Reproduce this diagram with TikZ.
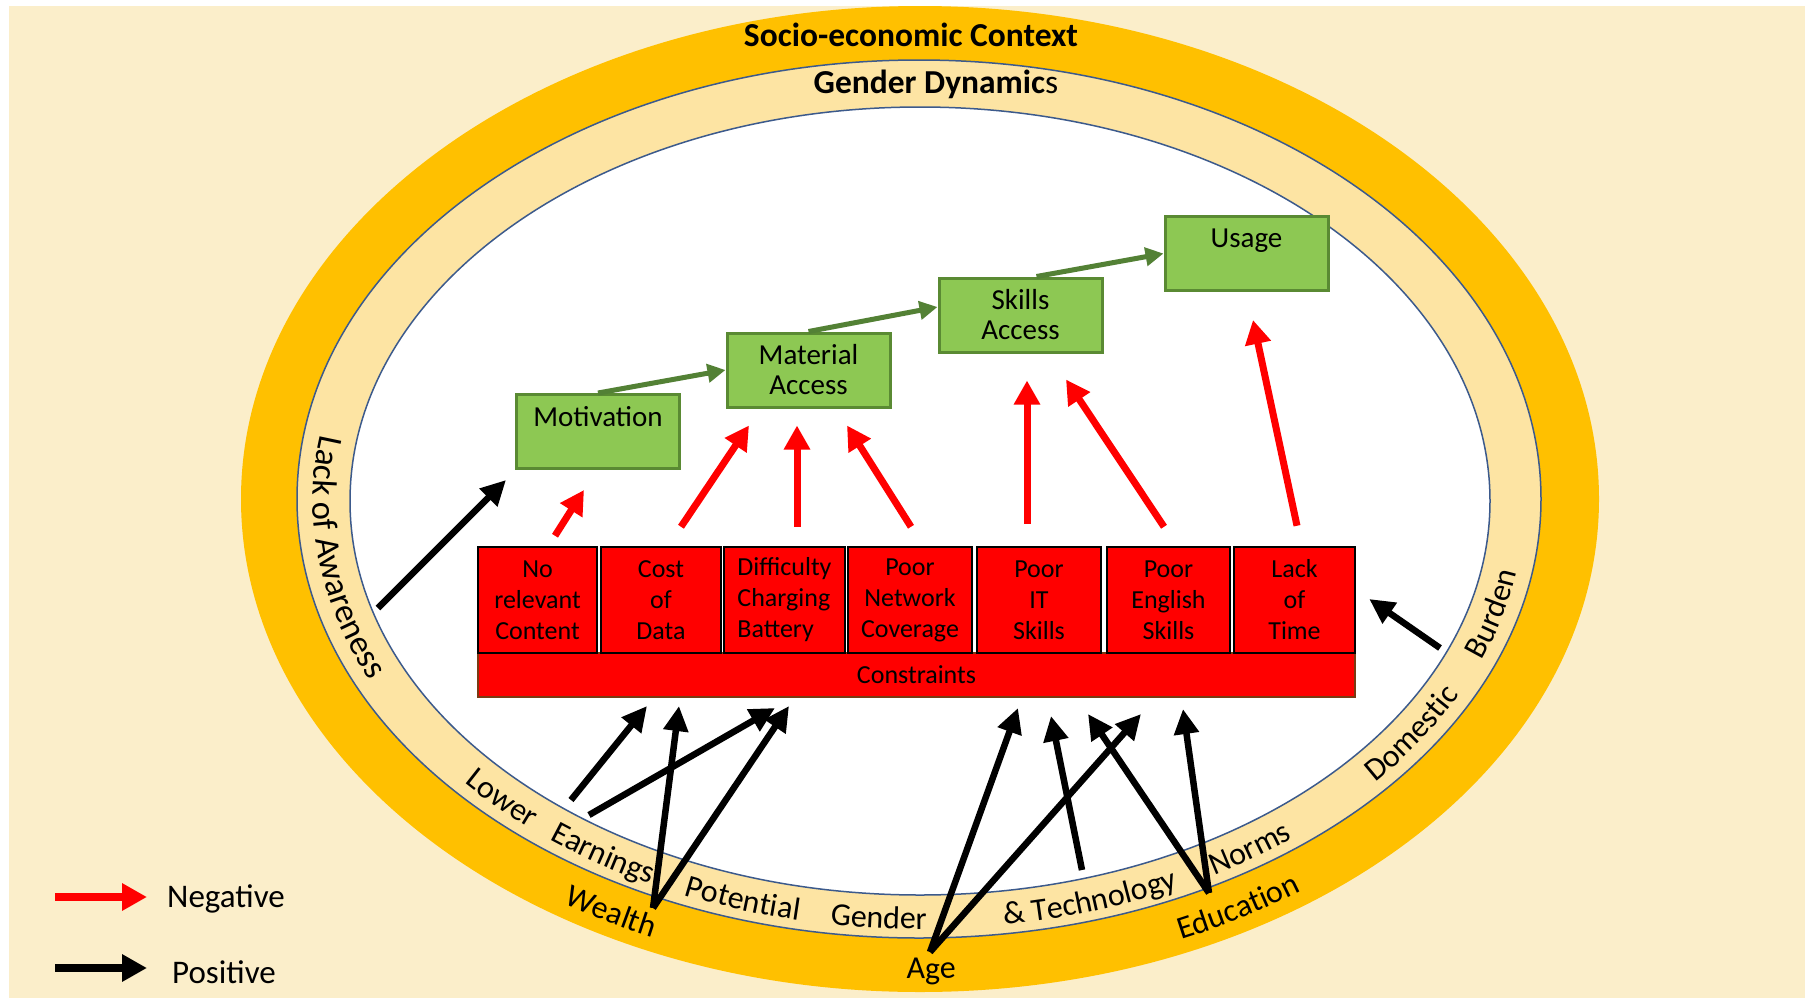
\documentclass[tikz,border=0pt]{standalone}
\usepackage{fontspec}
\setmainfont{Carlito}
\usetikzlibrary{arrows.meta,calc,decorations.text}

\definecolor{cream}{HTML}{FBEECA}
\definecolor{ctxorange}{HTML}{FFC000}
\definecolor{bandyellow}{HTML}{FDE4A3}
\definecolor{ringblue}{HTML}{3C5A8C}
\definecolor{stepgreen}{HTML}{8DC853}
\definecolor{stepedge}{HTML}{5A8A33}
\definecolor{flowgreen}{HTML}{538135}
\definecolor{barred}{HTML}{FF0000}
\definecolor{baredge}{HTML}{7B3A12}

% text set along an elliptical arc around (920,500):
% [font size], rx, ry, from angle, to angle, text
\newcommand\ringtext[6][32]{%
  \path[decorate, decoration={text along path, text align=center,
        text={|\fontsize{#1}{38}\selectfont|#6}}]
    plot[domain=#4:#5, samples=50] ({920+#2*cos(\x)},{500+#3*sin(\x)});
}

\begin{document}
\begin{tikzpicture}[x=1pt,y=-1pt,
  stepbox/.style={draw=stepedge, line width=3pt, fill=stepgreen,
    minimum width=163pt, minimum height=74pt, inner sep=0pt, align=center,
    font=\fontsize{29}{30}\selectfont},
  cbox/.style={draw=black, line width=2.5pt, fill=barred, minimum height=106pt,
    inner sep=0pt, align=center, font=\fontsize{26}{31}\selectfont},
  flow/.style={draw=flowgreen, line width=5pt, -{Triangle[length=18pt,width=18pt]}},
  negarrow/.style={draw=red, line width=7pt, -{Triangle[length=24pt,width=25pt]}},
  posarrow/.style={draw=black, line width=6.5pt, -{Triangle[length=25pt,width=24pt]}},
  legarrow/.style={line width=8pt, -{Triangle[length=25pt,width=26pt]}},
  title/.style={font=\fontsize{33.5}{38}\selectfont\bfseries},
  legtext/.style={font=\fontsize{33}{38}\selectfont, inner sep=0pt, anchor=west}
]
\useasboundingbox (0,0) rectangle (1805,1002);
\fill[white] (0,0) rectangle (1805,1002);
\fill[cream] (9,6) rectangle (1805,998);

% context rings
\fill[ctxorange] (920,499) ellipse [x radius=679, y radius=493];
\filldraw[fill=bandyellow, draw=ringblue, line width=1.5pt] (919,499) ellipse [x radius=622, y radius=439];
\filldraw[fill=white, draw=ringblue, line width=1.5pt] (920,501) ellipse [x radius=570, y radius=394];

\node[title] (ctx) at (911,35) {Socio-economic Context};
\node[title] (gdyn) at (936,84) {Gender Dynamic{\mdseries s}};

% labels in the gender band
\ringtext[34.5]{607}{428}{202.5}{142.5}{Lack of Awareness}
\ringtext{606}{429}{150}{120}{Lower}
\ringtext{606}{429}{137.5}{107.5}{Earnings}
\ringtext{606}{429}{122.5}{92.5}{Potential}
\ringtext{606}{429}{109}{79}{Gender}
\ringtext{606}{429}{93}{53}{{\&} Technology}
\ringtext{606}{429}{71}{41}{Norms}
\ringtext{606}{428}{48.7}{18.7}{Domestic}
\ringtext{606}{428}{30.5}{0.5}{Burden}
% labels in the context band
\ringtext{660}{479}{133.7}{103.7}{Wealth}
\ringtext{660}{479}{104}{74}{Age}
\ringtext{660}{479}{80}{40}{Education}

% stages of use
\node[stepbox] (mot) at (598,431.5) {Motivation\\\phantom{M}};
\node[stepbox] (mat) at (808.5,370) {Material\\Access};
\node[stepbox] (skl) at (1020.5,315) {Skills\\Access};
\node[stepbox] (use) at (1246.5,253.5) {Usage\\\phantom{M}};

\draw[flow] (mot.north) -- (mat.west);
\draw[flow] (mat.north) -- ($(skl.west)+(0,-8)$);
\draw[flow] ($(skl.north)+(16,0)$) -- (use.west);

% constraints
\node[draw=baredge, line width=2pt, fill=barred, minimum width=877pt, minimum height=44pt,
  inner sep=0pt, font=\fontsize{26}{31}\selectfont] (cons) at (916.5,675) {Constraints};
\node[cbox, minimum width=119pt] (b1) at (537.5,600) {No\\relevant\\Content};
\node[cbox, minimum width=120pt] (b2) at (661,600) {Cost\\of\\Data};
\node[cbox, minimum width=121pt, align=left] (b3) at (784.5,600) {Difficulty\\Charging\\Battery};
\node[cbox, minimum width=124pt] (b4) at (910,600) {Poor\\Network\\Coverage};
\node[cbox, minimum width=124pt] (b5) at (1039,600) {Poor\\IT\\Skills};
\node[cbox, minimum width=123pt] (b6) at (1168.5,600) {Poor\\English\\Skills};
\node[cbox, minimum width=121pt] (b7) at (1294.5,600) {Lack\\of\\Time};

% negative effects
\draw[negarrow] ($(b1.north)+(17.5,-10)$) -- ($(mot.south)+(-14,20)$);
\draw[negarrow] ($(b2.north)+(20,-19)$) -- ($(mat.south)+(-59.5,17)$);
\draw[negarrow] ($(b3.north)+(12.5,-19)$) -- ($(mat.south)+(-11.5,17)$);
\draw[negarrow] ($(b4.north)+(1,-19)$) -- ($(mat.south)+(38.5,17)$);
\draw[negarrow] ($(b5.north)+(-12,-22)$) -- ($(skl.south)+(6.5,27)$);
\draw[negarrow] ($(b6.north)+(-4.5,-19)$) -- ($(skl.south)+(45.5,26)$);
\draw[negarrow] ($(b7.north)+(2.5,-20)$) -- ($(use.south)+(6.5,28)$);

% positive effects from the context
\coordinate (aware) at (378,608);
\coordinate (domestic) at (1440,648);
\coordinate (earn1) at (571,800);
\coordinate (earn2) at (589,815);
\coordinate (wealth) at (653,908);
\coordinate (age) at (930,952);
\coordinate (tech) at (1082,870);
\coordinate (edu) at (1209,893);

\draw[posarrow] (aware) -- ($(mot.south west)+(-9,10)$);
\draw[posarrow] (domestic) -- ($(b7.east)+(13,-1)$);
\draw[posarrow] (earn1) -- ($(cons.south west)+(170,8)$);
\draw[posarrow] (earn2) -- ($(cons.south west)+(298,10)$);
\draw[posarrow] (wealth) -- ($(cons.south west)+(202,8)$);
\draw[posarrow] (wealth) -- ($(cons.south west)+(312,8)$);
\draw[posarrow] (age) -- ($(cons.south west)+(541,10)$);
\draw[posarrow] (age) -- ($(cons.south west)+(664,16)$);
\draw[posarrow] (tech) -- ($(cons.south west)+(574,18)$);
\draw[posarrow] (edu) -- ($(cons.south west)+(611,16)$);
\draw[posarrow] (edu) -- ($(cons.south west)+(706,11)$);

% legend
\node[legtext] (negl) at (167,899) {Negative};
\node[legtext] (posl) at (172,972) {Positive};
\coordinate (negtail) at (55,897);
\coordinate (postail) at (55,968);
\draw[legarrow, draw=red] (negtail) -- ($(negl.west)+(-20,-2)$);
\draw[legarrow, draw=black] (postail) -- ($(posl.west)+(-25,-4)$);
\end{tikzpicture}
\end{document}
